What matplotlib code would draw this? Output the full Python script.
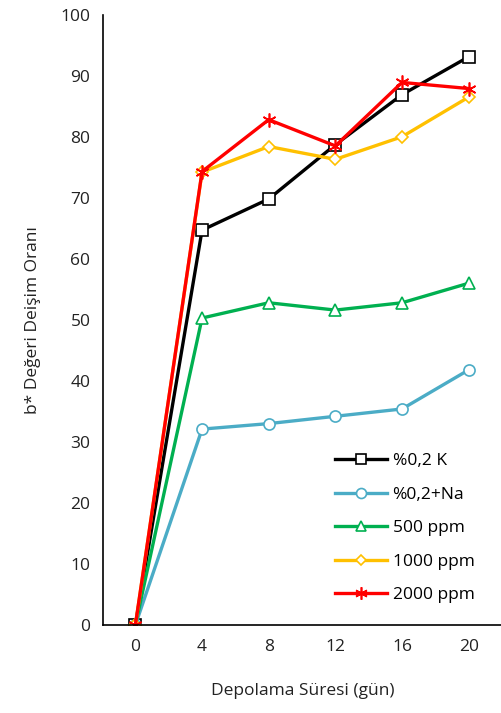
import matplotlib
matplotlib.use("Agg")
import matplotlib.pyplot as plt

days = [0, 4, 8, 12, 16, 20]
k_02 = [0, 64.7, 69.8, 78.7, 86.9, 93.1]
na_02 = [0, 32.1, 33.0, 34.2, 35.4, 41.8]
ppm_500 = [0, 50.3, 52.8, 51.6, 52.8, 56.0]
ppm_1000 = [0, 74.2, 78.4, 76.3, 80.0, 86.5]
ppm_2000 = [0, 74.3, 82.8, 78.5, 88.9, 87.9]
labels = ["%0,2 K", "%0,2+Na", "500 ppm", "1000 ppm", "2000 ppm"]
yticks = [0, 10, 20, 30, 40, 50, 60, 70, 80, 90, 100]

plt.rcParams['font.family'] = ['Open Sans', 'DejaVu Sans']

fig = plt.figure(figsize=(5.02, 7.13), dpi=100)
ax = fig.add_axes([0.205, 0.1234, 0.795, 0.856])

styles = [
    (k_02, "#000000", "#000000", "s", 8),
    (na_02, "#4BACC6", "#4BACC6", "o", 8),
    (ppm_500, "#00B050", "#00B050", "^", 8),
    (ppm_1000, "#FFC000", "#FFC000", "D", 6),
    (ppm_2000, "#FF0000", "#FF0000", (6, 2, 0), 10),
]
for (vals, lc, mc, m, ms), lab in zip(styles, labels):
    ax.plot(days, vals, color=lc, lw=2.4, marker=m, markersize=ms,
            markerfacecolor="white",
            markeredgecolor=mc, markeredgewidth=1.2, label=lab)

ax.set_xlim(-1.95, 22)
ax.set_ylim(0, 100)
ax.set_xticks(days)
ax.set_yticks(yticks)
ax.tick_params(axis="both", length=0, labelsize=12.5, colors="#222222", pad=9)
ax.tick_params(axis="x", pad=10)
for s in ["top", "right"]:
    ax.spines[s].set_visible(False)
for s in ["left", "bottom"]:
    ax.spines[s].set_color("#000000")
    ax.spines[s].set_linewidth(1.2)

ax.set_xlabel("Depolama Süresi (gün)", fontsize=12.5, color="#222222", labelpad=20)
ax.set_ylabel("b* Değeri Deişim Oranı", fontsize=12.5, color="#222222", labelpad=14)

leg = ax.legend(loc="lower right", bbox_to_anchor=(0.97, 0.01), frameon=False,
                fontsize=12.5, handlelength=3.0, labelspacing=1.0, handletextpad=0.3,
                markerscale=0.9)

fig.savefig("out.png", dpi=100)
